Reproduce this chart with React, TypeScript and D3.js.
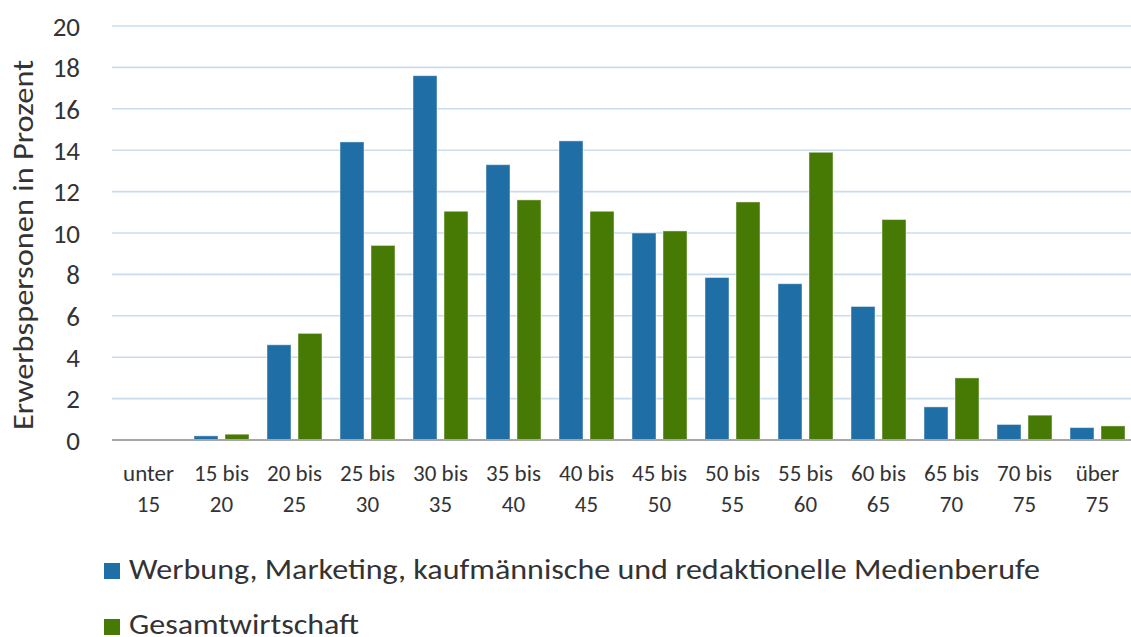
import React from 'react';
import * as d3 from 'd3';

const categories = [
  ['unter', '15'], ['15 bis', '20'], ['20 bis', '25'], ['25 bis', '30'], ['30 bis', '35'],
  ['35 bis', '40'], ['40 bis', '45'], ['45 bis', '50'], ['50 bis', '55'], ['55 bis', '60'],
  ['60 bis', '65'], ['65 bis', '70'], ['70 bis', '75'], ['über', '75'],
];
const werbung = [0, 0.2, 4.6, 14.4, 17.6, 13.3, 14.45, 10.0, 7.85, 7.55, 6.45, 1.6, 0.75, 0.6];
const gesamt = [0, 0.28, 5.15, 9.4, 11.05, 11.6, 11.05, 10.1, 11.5, 13.9, 10.65, 3.0, 1.2, 0.68];
const yTicks = [0, 2, 4, 6, 8, 10, 12, 14, 16, 18, 20];
const seriesNames = ['Werbung, Marketing, kaufmännische und redaktionelle Medienberufe', 'Gesamtwirtschaft'];
const legendWidths = [911, 230];
const colors = ['#1f6ea6', '#467a05'];

const FONT = 'Carlito, Calibri, Lato, sans-serif';
const TEXT = '#333333';

export default function App() {
  const width = 1131;
  const height = 637;
  const left = 112;
  const right = 1134;

  const keys = categories.map((c) => c.join(' '));
  const x = d3.scaleBand().domain(keys).range([left, right]);
  const x1 = d3.scaleBand().domain(['0', '1']).range([9, 64]).paddingInner(0.2258);
  const y = d3.scaleLinear().domain([0, 20]).range([440, 26]);
  const series = [werbung, gesamt];

  return (
    <svg width={width} height={height} style={{ position: 'absolute', left: 0, top: 0, background: '#fff' }}>
      {yTicks.filter((t) => t > 0).map((t) => (
        <line key={t} x1={left} x2={width} y1={y(t)} y2={y(t)} stroke="#c9dcec" strokeWidth={1.6} />
      ))}
      {yTicks.map((t) => (
        <text key={t} x={80} y={y(t)} dy="0.36em" textAnchor="end" fontFamily={FONT} fontSize={27} fill={TEXT}>
          {t}
        </text>
      ))}
      <text
        transform={`translate(33,${(y(0) + y(20)) / 2 + 12}) rotate(-90)`}
        textAnchor="middle"
        fontFamily={FONT}
        fontSize={28}
        fill={TEXT}
        textLength={370}
        lengthAdjust="spacingAndGlyphs"
      >
        Erwerbspersonen in Prozent
      </text>
      {series.map((vals, si) =>
        vals.map((v, i) => (
          <rect
            key={`${si}-${i}`}
            x={(x(keys[i]) as number) + (x1(String(si)) as number)}
            y={y(v)}
            width={x1.bandwidth()}
            height={y(0) - y(v)}
            fill={colors[si]}
            stroke="#ffffff"
            strokeOpacity={0.45}
            strokeWidth={1}
          />
        ))
      )}
      <line x1={left} x2={width} y1={y(0)} y2={y(0)} stroke="#a6a6a6" strokeWidth={2} />
      {categories.map((c, i) => {
        const cx = (x(keys[i]) as number) + x.bandwidth() / 2;
        return (
          <g key={keys[i]} fontFamily={FONT} fontSize={23} fill={TEXT} textAnchor="middle">
            <text x={cx} y={481}>{c[0]}</text>
            <text x={cx} y={512}>{c[1]}</text>
          </g>
        );
      })}
      {seriesNames.map((name, i) => (
        <g key={name}>
          <rect x={104} y={563 + i * 56} width={16} height={16} fill={colors[i]} />
          <text
            x={129}
            y={579 + i * 55}
            fontFamily={FONT}
            fontSize={29}
            fill={TEXT}
            textLength={legendWidths[i]}
            lengthAdjust="spacingAndGlyphs"
          >
            {name}
          </text>
        </g>
      ))}
    </svg>
  );
}
